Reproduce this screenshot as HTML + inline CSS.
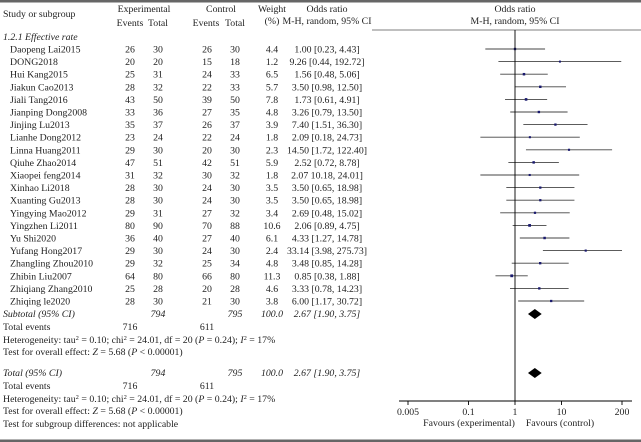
<!DOCTYPE html>
<html><head><meta charset="utf-8"><style>
body{margin:0;background:#fff}
svg{display:block;font-family:"Liberation Serif",serif;font-size:9.8px;fill:#222}
</style></head><body>
<svg id="c" width="641" height="442" viewBox="0 0 641 442" xmlns="http://www.w3.org/2000/svg">
<rect x="0" y="0" width="641" height="2.5" fill="#666"/>
<rect x="0" y="439.5" width="641" height="2.5" fill="#666"/>
<line x1="372" y1="30" x2="641" y2="30" stroke="#555" stroke-width="0.8"/>
<g>
<text x="3" y="17">Study or subgroup</text>
<text x="144" y="12" text-anchor="middle">Experimental</text>
<text x="130" y="26" text-anchor="middle">Events</text>
<text x="158" y="26" text-anchor="middle">Total</text>
<text x="221" y="12" text-anchor="middle">Control</text>
<text x="206" y="26" text-anchor="middle">Events</text>
<text x="235" y="26" text-anchor="middle">Total</text>
<text x="272" y="12" text-anchor="middle">Weight</text>
<text x="272" y="24" text-anchor="middle">(%)</text>
<text x="327" y="12" text-anchor="middle">Odds ratio</text>
<text x="327" y="24" text-anchor="middle">M-H, random, 95% CI</text>
<text x="515" y="12" text-anchor="middle">Odds ratio</text>
<text x="515" y="24" text-anchor="middle">M-H, random, 95% CI</text>
</g>
<text x="3" y="40" font-style="italic">1.2.1 Effective rate</text>
<g id="rows"></g>
<g id="plot"></g>
</svg>
<script>
const studies=["Daopeng Lai2015","DONG2018","Hui Kang2015","Jiakun Cao2013","Jiali Tang2016","Jianping Dong2008","Jinjing Lu2013","Lianhe Dong2012","Linna Huang2011","Qiuhe Zhao2014","Xiaopei feng2014","Xinhao Li2018","Xuanting Gu2013","Yingying Mao2012","Yingzhen Li2011","Yu Shi2020","Yufang Hong2017","Zhangling Zhou2010","Zhibin Liu2007","Zhiqiang Zhang2010","Zhiqing le2020"];
const expEvents=[26,20,25,28,43,33,35,23,29,47,31,28,28,29,80,36,29,29,64,25,28];
const expTotal=[30,20,31,32,50,36,37,24,30,51,32,30,30,31,90,40,30,32,80,28,30];
const ctlEvents=[26,15,24,22,39,27,26,22,20,42,30,24,24,27,70,27,24,25,66,20,21];
const ctlTotal=[30,18,33,33,50,35,37,24,30,51,32,30,30,32,88,40,30,34,80,28,30];
const weights=[4.4,1.2,6.5,5.7,7.8,4.8,3.9,1.8,2.3,5.9,1.8,3.5,3.5,3.4,10.6,6.1,2.4,4.8,11.3,4.6,3.8];
const orVal=[1.00,9.26,1.56,3.50,1.73,3.26,7.40,2.09,14.50,2.52,2.07,3.50,3.50,2.69,2.06,4.33,33.14,3.48,0.85,3.33,6.00];
const ciLow=[0.23,0.44,0.48,0.98,0.61,0.79,1.51,0.18,1.72,0.72,0.18,0.65,0.65,0.48,0.89,1.27,3.98,0.85,0.38,0.78,1.17];
const ciHigh=[4.43,192.72,5.06,12.50,4.91,13.50,36.30,24.73,122.40,8.78,24.01,18.98,18.98,15.02,4.75,14.78,275.73,14.28,1.88,14.23,30.72];
const ciText=["1.00 [0.23, 4.43]","9.26 [0.44, 192.72]","1.56 [0.48, 5.06]","3.50 [0.98, 12.50]","1.73 [0.61, 4.91]","3.26 [0.79, 13.50]","7.40 [1.51, 36.30]","2.09 [0.18, 24.73]","14.50 [1.72, 122.40]","2.52 [0.72, 8.78]","2.07 10.18, 24.01]","3.50 [0.65, 18.98]","3.50 [0.65, 18.98]","2.69 [0.48, 15.02]","2.06 [0.89, 4.75]","4.33 [1.27, 14.78]","33.14 [3.98, 275.73]","3.48 [0.85, 14.28]","0.85 [0.38, 1.88]","3.33 [0.78, 14.23]","6.00 [1.17, 30.72]"];
const pooled=[2.67,1.90,3.75];
const ticks=[0.005,0.1,1,10,200];
const tickLabels=["0.005","0.1","1","10","200"];

const NS="http://www.w3.org/2000/svg";
const xMin=0.005,xMax=200,pxL=408,pxR=622;
function xs(v){v=Math.max(xMin,Math.min(xMax,v));return pxL+(Math.log10(v)-Math.log10(xMin))/(Math.log10(xMax)-Math.log10(xMin))*(pxR-pxL);}
function ys(i){return 49+i*12.6;}
function mk(tag,attrs,parent,txt){const e=document.createElementNS(NS,tag);for(const k in attrs)e.setAttribute(k,attrs[k]);if(txt!==undefined)e.textContent=txt;parent.appendChild(e);return e;}
const rows=document.getElementById('rows'),plot=document.getElementById('plot');
function txt(x,y,s,p,anchor,italic){const t=mk('text',{x:x,y:y,'text-anchor':anchor||'start'},p,s);if(italic)t.setAttribute('font-style','italic');return t;}

studies.forEach((s,i)=>{
  const y=ys(i)+3.5;
  const g=mk('g',{},rows);
  
  
  txt(10,y,s,g);
  txt(130,y,expEvents[i],g,'middle');
  txt(158,y,expTotal[i],g,'middle');
  txt(207,y,ctlEvents[i],g,'middle');
  txt(235,y,ctlTotal[i],g,'middle');
  txt(272,y,weights[i].toFixed(1),g,'middle');
  txt(327,y,ciText[i],g,'middle');
  const yc=ys(i);
  const ln=mk('line',{x1:xs(ciLow[i]),x2:xs(ciHigh[i]),y1:yc,y2:yc,stroke:'#444','stroke-width':0.9},plot);
  
  
  const sz=1.6+Math.sqrt(weights[i])*0.35;
  const sq=mk('rect',{x:xs(orVal[i])-sz/2,y:yc-sz/2,width:sz,height:sz,fill:'#1a1a6e'},plot);
  
  
});

const sumG=mk('g',{},rows);


const pooledTxt=pooled[0].toFixed(2)+" ["+pooled[1].toFixed(2)+", "+pooled[2].toFixed(2)+"]";
txt(3,317,"Subtotal (95% CI)",sumG,'start',true);
txt(158,317,"794",sumG,'middle',true);txt(235,317,"795",sumG,'middle',true);
txt(272,317,"100.0",sumG,'middle',true);txt(327,317,pooledTxt,sumG,'middle',true);
txt(3,330,"Total events",sumG);txt(130,330,"716",sumG,'middle');txt(207,330,"611",sumG,'middle');
function het(y){const t=mk('text',{x:3,y:y},sumG);t.innerHTML='Heterogeneity: tau<tspan dy="-3" font-size="6.5">2</tspan><tspan dy="3"> = 0.10; chi</tspan><tspan dy="-3" font-size="6.5">2</tspan><tspan dy="3"> = 24.01, df = 20 (</tspan><tspan font-style="italic">P</tspan> = 0.24); <tspan font-style="italic">I</tspan><tspan dy="-3" font-size="6.5">2</tspan><tspan dy="3"> = 17%</tspan>';}
function ovr(y){const t=mk('text',{x:3,y:y},sumG);t.innerHTML='Test for overall effect: <tspan font-style="italic">Z</tspan> = 5.68 (<tspan font-style="italic">P</tspan> &lt; 0.00001)';}
het(343);ovr(355);
txt(3,376,"Total (95% CI)",sumG,'start',true);
txt(158,376,"794",sumG,'middle',true);txt(235,376,"795",sumG,'middle',true);
txt(272,376,"100.0",sumG,'middle',true);txt(327,376,pooledTxt,sumG,'middle',true);
txt(3,389,"Total events",sumG);txt(130,389,"716",sumG,'middle');txt(207,389,"611",sumG,'middle');
het(402);ovr(414);
txt(3,427,"Test for subgroup differences: not applicable",sumG);

[314,373].forEach((yc,k)=>{
  const d=mk('polygon',{points:`${xs(pooled[1])},${yc} ${xs(pooled[0])},${yc-5} ${xs(pooled[2])},${yc} ${xs(pooled[0])},${yc+5}`,fill:'#000'},plot);
  
  
});
const vl=mk('line',{x1:xs(1),x2:xs(1),y1:30,y2:401,stroke:'#000','stroke-width':0.9},plot);


const ax=mk('line',{x1:399,x2:632,y1:401,y2:401,stroke:'#000','stroke-width':0.9},plot);


ticks.forEach((t,i)=>{
  const tk=mk('line',{x1:xs(t),x2:xs(t),y1:401,y2:405,stroke:'#000','stroke-width':0.9},plot);
  
  
  const lb=mk('text',{x:xs(t),y:415,'text-anchor':'middle'},plot,tickLabels[i]);
  
  
});
const f1=mk('text',{x:469,y:426,'text-anchor':'middle'},plot,'Favours (experimental)');


const f2=mk('text',{x:560,y:426,'text-anchor':'middle'},plot,'Favours (control)');


</script>
</body></html>
